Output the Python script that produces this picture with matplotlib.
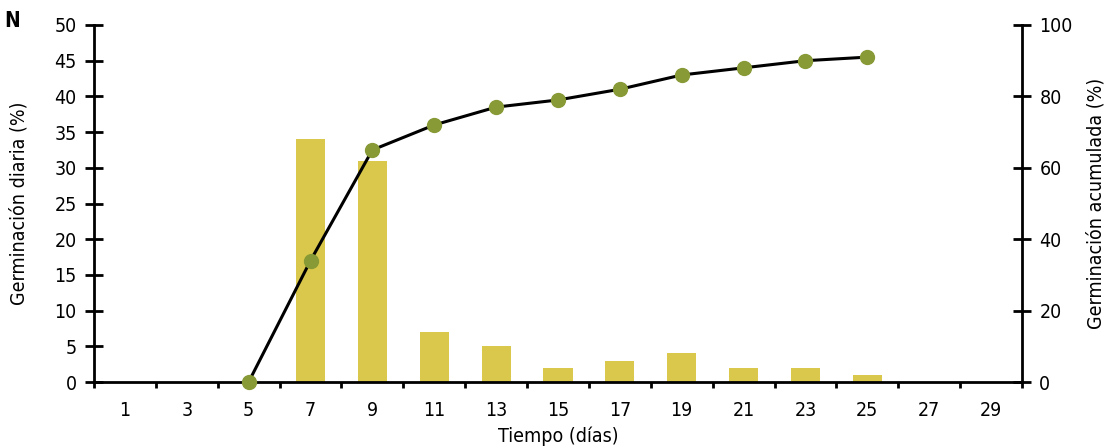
import matplotlib
matplotlib.use("Agg")
import matplotlib.pyplot as plt
import numpy as np

plt.rcParams['font.family'] = ['DejaVu Sans']
plt.rcParams['font.stretch'] = 'condensed'

# datos
dias = [1, 3, 5, 7, 9, 11, 13, 15, 17, 19, 21, 23, 25, 27, 29]
germ_diaria = [0, 0, 0, 34, 31, 7, 5, 2, 3, 4, 2, 2, 1, 0, 0]
dias_acum = [5, 7, 9, 11, 13, 15, 17, 19, 21, 23, 25]
germ_acum = [0, 34, 65, 72, 77, 79, 82, 86, 88, 90, 91]

bar_color = "#D9C84B"
point_color = "#879A36"

fig = plt.figure(figsize=(11.07, 4.48), dpi=100)
ax = fig.add_axes([0.0849, 0.1473, 0.8383, 0.7969])

pos = np.arange(len(dias))
ax.bar(pos, germ_diaria, width=0.47, color=bar_color, zorder=2)
ax.set_xlim(-0.5, len(dias) - 0.5)
ax.set_ylim(0, 50)
ax.set_yticks(range(0, 51, 5))
ax.set_xticks(pos)
ax.set_xticklabels([str(d) for d in dias])
ax.tick_params(axis="x", length=0, labelsize=14, pad=14)
ax.set_xticks(np.arange(-0.5, len(dias), 1), minor=True)
ax.tick_params(axis="x", which="minor", length=4, width=2, direction="out")
ax.tick_params(axis="y", direction="inout", length=13, width=2, labelsize=14, pad=6)
ax.set_ylabel("Germinación diaria (%)", fontsize=14)
ax.yaxis.set_label_coords(-0.071, 0.5)
ax.set_xlabel("Tiempo (días)", fontsize=14, labelpad=4)
for s in ["top", "right"]:
    ax.spines[s].set_visible(False)
ax.spines["left"].set_linewidth(2)
ax.spines["bottom"].set_linewidth(2)

ax2 = ax.twinx()
idx = [dias.index(d) for d in dias_acum]
ax2.plot(idx, germ_acum, color="black", lw=2.2, marker="o", ms=10,
         mfc=point_color, mec=point_color, zorder=3, clip_on=False)
ax2.set_ylim(0, 100)
ax2.set_yticks(range(0, 101, 20))
ax2.tick_params(axis="y", direction="inout", length=13, width=2, labelsize=14, pad=6)
ax2.set_ylabel("Germinación acumulada (%)", fontsize=14)
ax2.yaxis.set_label_coords(1.069, 0.5)
for s in ["top", "left", "bottom"]:
    ax2.spines[s].set_visible(False)
ax2.spines["right"].set_linewidth(2)

fig.text(0.004, 0.94, "N", fontsize=15, fontweight="bold")

fig.savefig("out.png", dpi=100)
